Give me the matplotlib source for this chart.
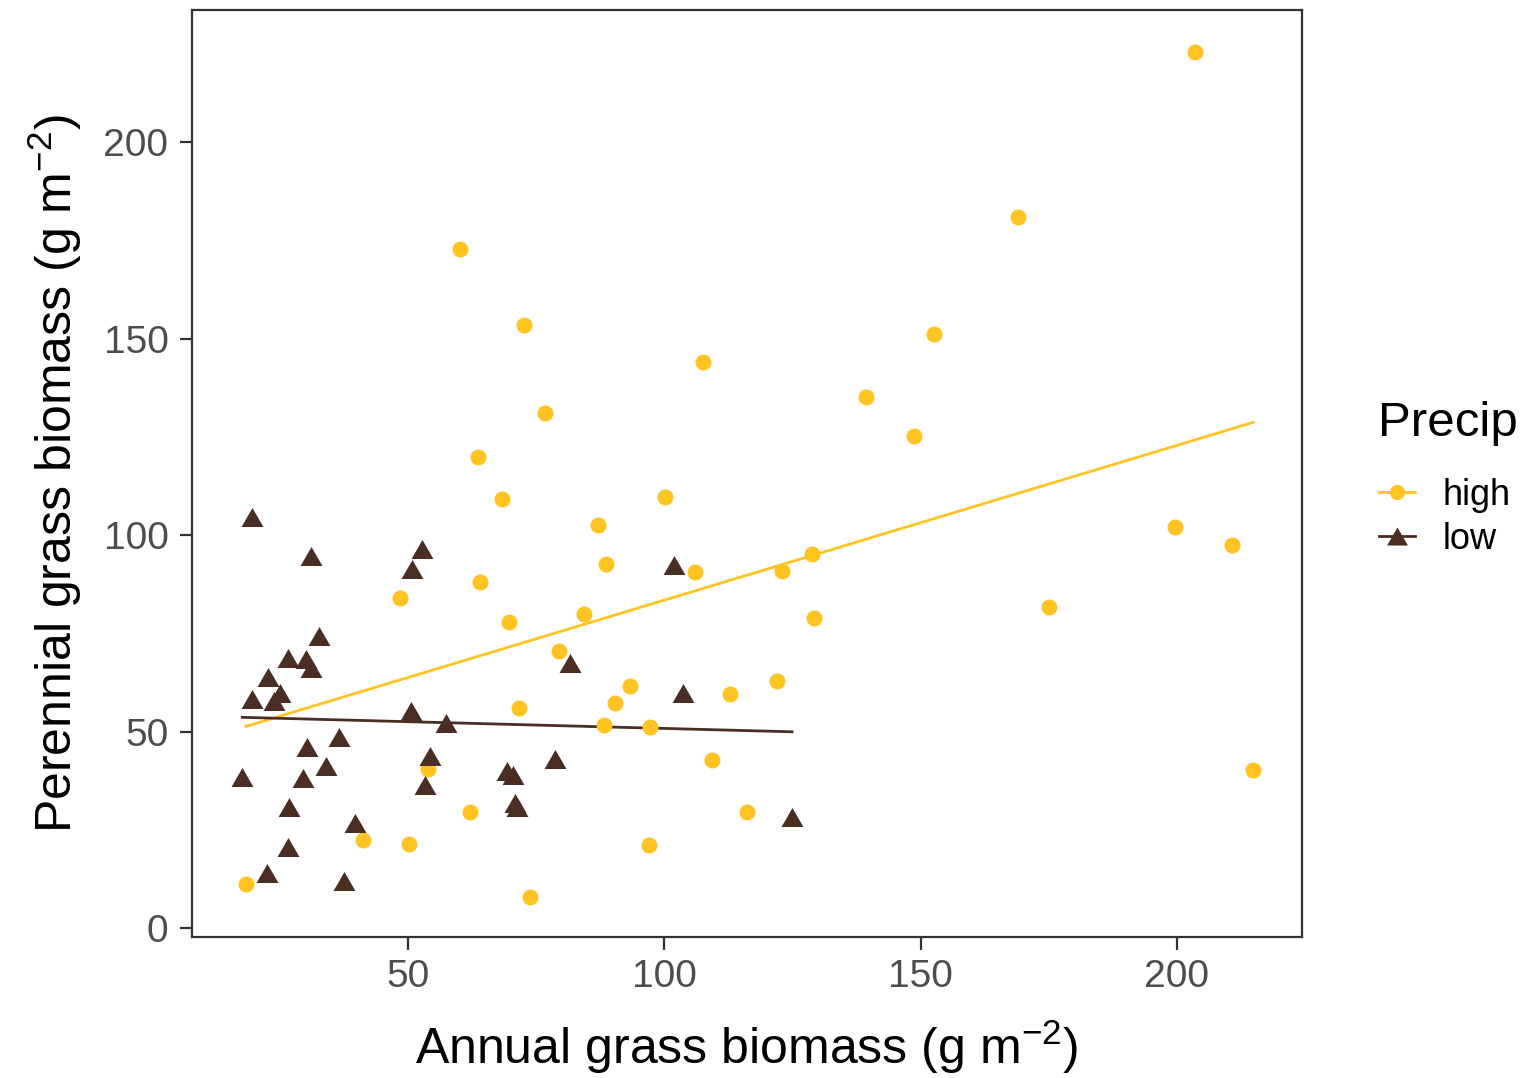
# Annual vs perennial grass biomass by precipitation treatment

import numpy as np
import matplotlib.pyplot as plt
from matplotlib.lines import Line2D

plt.rcParams['font.family'] = ['Liberation Sans', 'DejaVu Sans']
plt.rcParams['mathtext.fontset'] = 'custom'
plt.rcParams['mathtext.rm'] = 'Liberation Sans'
plt.rcParams['mathtext.default'] = 'regular'

# high precipitation plots
high_annual = [18.3, 41.2, 48.3, 50.2, 53.8, 60.0, 62.1, 63.6, 64.0, 68.3, 69.7,
               71.6, 72.6, 73.8, 76.7, 79.5, 84.2, 87.1, 88.2, 88.6, 90.4, 93.3,
               96.9, 97.2, 100.1, 106.0, 107.6, 109.2, 112.8, 116.1, 121.9, 122.9,
               128.7, 129.1, 139.3, 148.7, 152.6, 168.9, 175.1, 199.7, 203.6,
               210.8, 214.9]
high_perennial = [11.1, 22.4, 84.1, 21.5, 40.4, 172.8, 29.6, 120.0, 88.0, 109.2, 78.0,
                  56.0, 153.5, 7.8, 131.0, 70.6, 80.0, 102.6, 51.8, 92.6, 57.4, 61.6,
                  21.0, 51.2, 109.7, 90.7, 144.1, 42.7, 59.6, 29.4, 63.0, 90.9,
                  95.1, 79.0, 135.2, 125.3, 151.2, 180.9, 81.8, 102.2, 222.9,
                  97.4, 40.3]

# low precipitation plots
low_annual = [19.6, 31.1, 52.7, 50.7, 32.5, 26.5, 30.0, 31.0, 22.6, 19.5, 24.9, 23.7,
              50.6, 57.3, 36.4, 30.2, 54.3, 34.0, 17.6, 29.5, 53.3, 26.8, 39.7, 26.5,
              22.4, 37.4, 69.2, 70.5, 70.8, 71.3, 78.7, 81.6, 101.9, 103.7, 124.9]
low_perennial = [104.7, 94.7, 96.6, 91.5, 74.4, 68.8, 68.4, 66.1, 63.9, 58.4, 59.9, 57.8,
                 55.2, 52.1, 48.5, 46.1, 43.8, 41.3, 38.5, 38.1, 36.4, 30.7, 26.6, 20.5,
                 14.1, 12.0, 40.0, 39.0, 31.8, 30.8, 42.9, 67.4, 92.3, 59.8, 28.2]

x_ticks = [50, 100, 150, 200]
y_ticks = [0, 50, 100, 150, 200]

col_high = '#FFC422'
col_low = '#4A2E24'
tri = [(0, 0.866), (-1, -0.866), (1, -0.866)]

fig = plt.figure(figsize=(15.24, 10.78), dpi=100)
ax = fig.add_axes([0.126, 0.1308, 0.7283, 0.8599])

groups = [
    (high_annual, high_perennial, col_high, 'o', 11.5, 'high'),
    (low_annual, low_perennial, col_low, tri, 15.8, 'low'),
]
handles = []
for xs, ys, col, mk, ms, lab in groups:
    xs = np.array(xs)
    ys = np.array(ys)
    ax.plot(xs, ys, linestyle='none', marker=mk, markersize=ms,
            color=col, markeredgewidth=0, zorder=3)
    # linear fit like geom_smooth(method = "lm", se = FALSE)
    slope, icpt = np.polyfit(xs, ys, 1)
    xx = np.array([xs.min(), xs.max()])
    ax.plot(xx, icpt + slope * xx, color=col, linewidth=2.0, zorder=2)
    handles.append(Line2D([], [], color=col, linewidth=2.0, marker=mk,
                          markersize=ms * 0.95, markeredgewidth=0, label=lab))

ax.set_xlim(7.8, 224.4)
ax.set_ylim(-2.3, 233.7)
ax.set_xticks(x_ticks)
ax.set_yticks(y_ticks)
ax.tick_params(axis='both', labelsize=28, labelcolor='#4D4D4D', color='#333333',
               length=9, width=1.6)
ax.tick_params(axis='x', pad=7)
ax.tick_params(axis='y', pad=8)
for sp in ax.spines.values():
    sp.set_color('#333333')
    sp.set_linewidth(1.6)

ax.set_xlabel('Annual grass biomass (g m$^{-2}$)', fontsize=36, labelpad=16)
ax.set_ylabel('Perennial grass biomass (g m$^{-2}$)', fontsize=36, labelpad=14)

# legend title drawn separately so the gap to the keys matches
fig.text(1378 / 1524, 1 - 436 / 1078, 'Precip', fontsize=35.5,
         ha='left', va='baseline')
leg = fig.legend(handles=handles, loc='upper left',
                 bbox_to_anchor=(0.905, 0.557), frameon=False, fontsize=26,
                 handlelength=1.0, handletextpad=0.75, labelspacing=0.25,
                 borderpad=0, borderaxespad=0)

fig.savefig('out.png', dpi=100)
